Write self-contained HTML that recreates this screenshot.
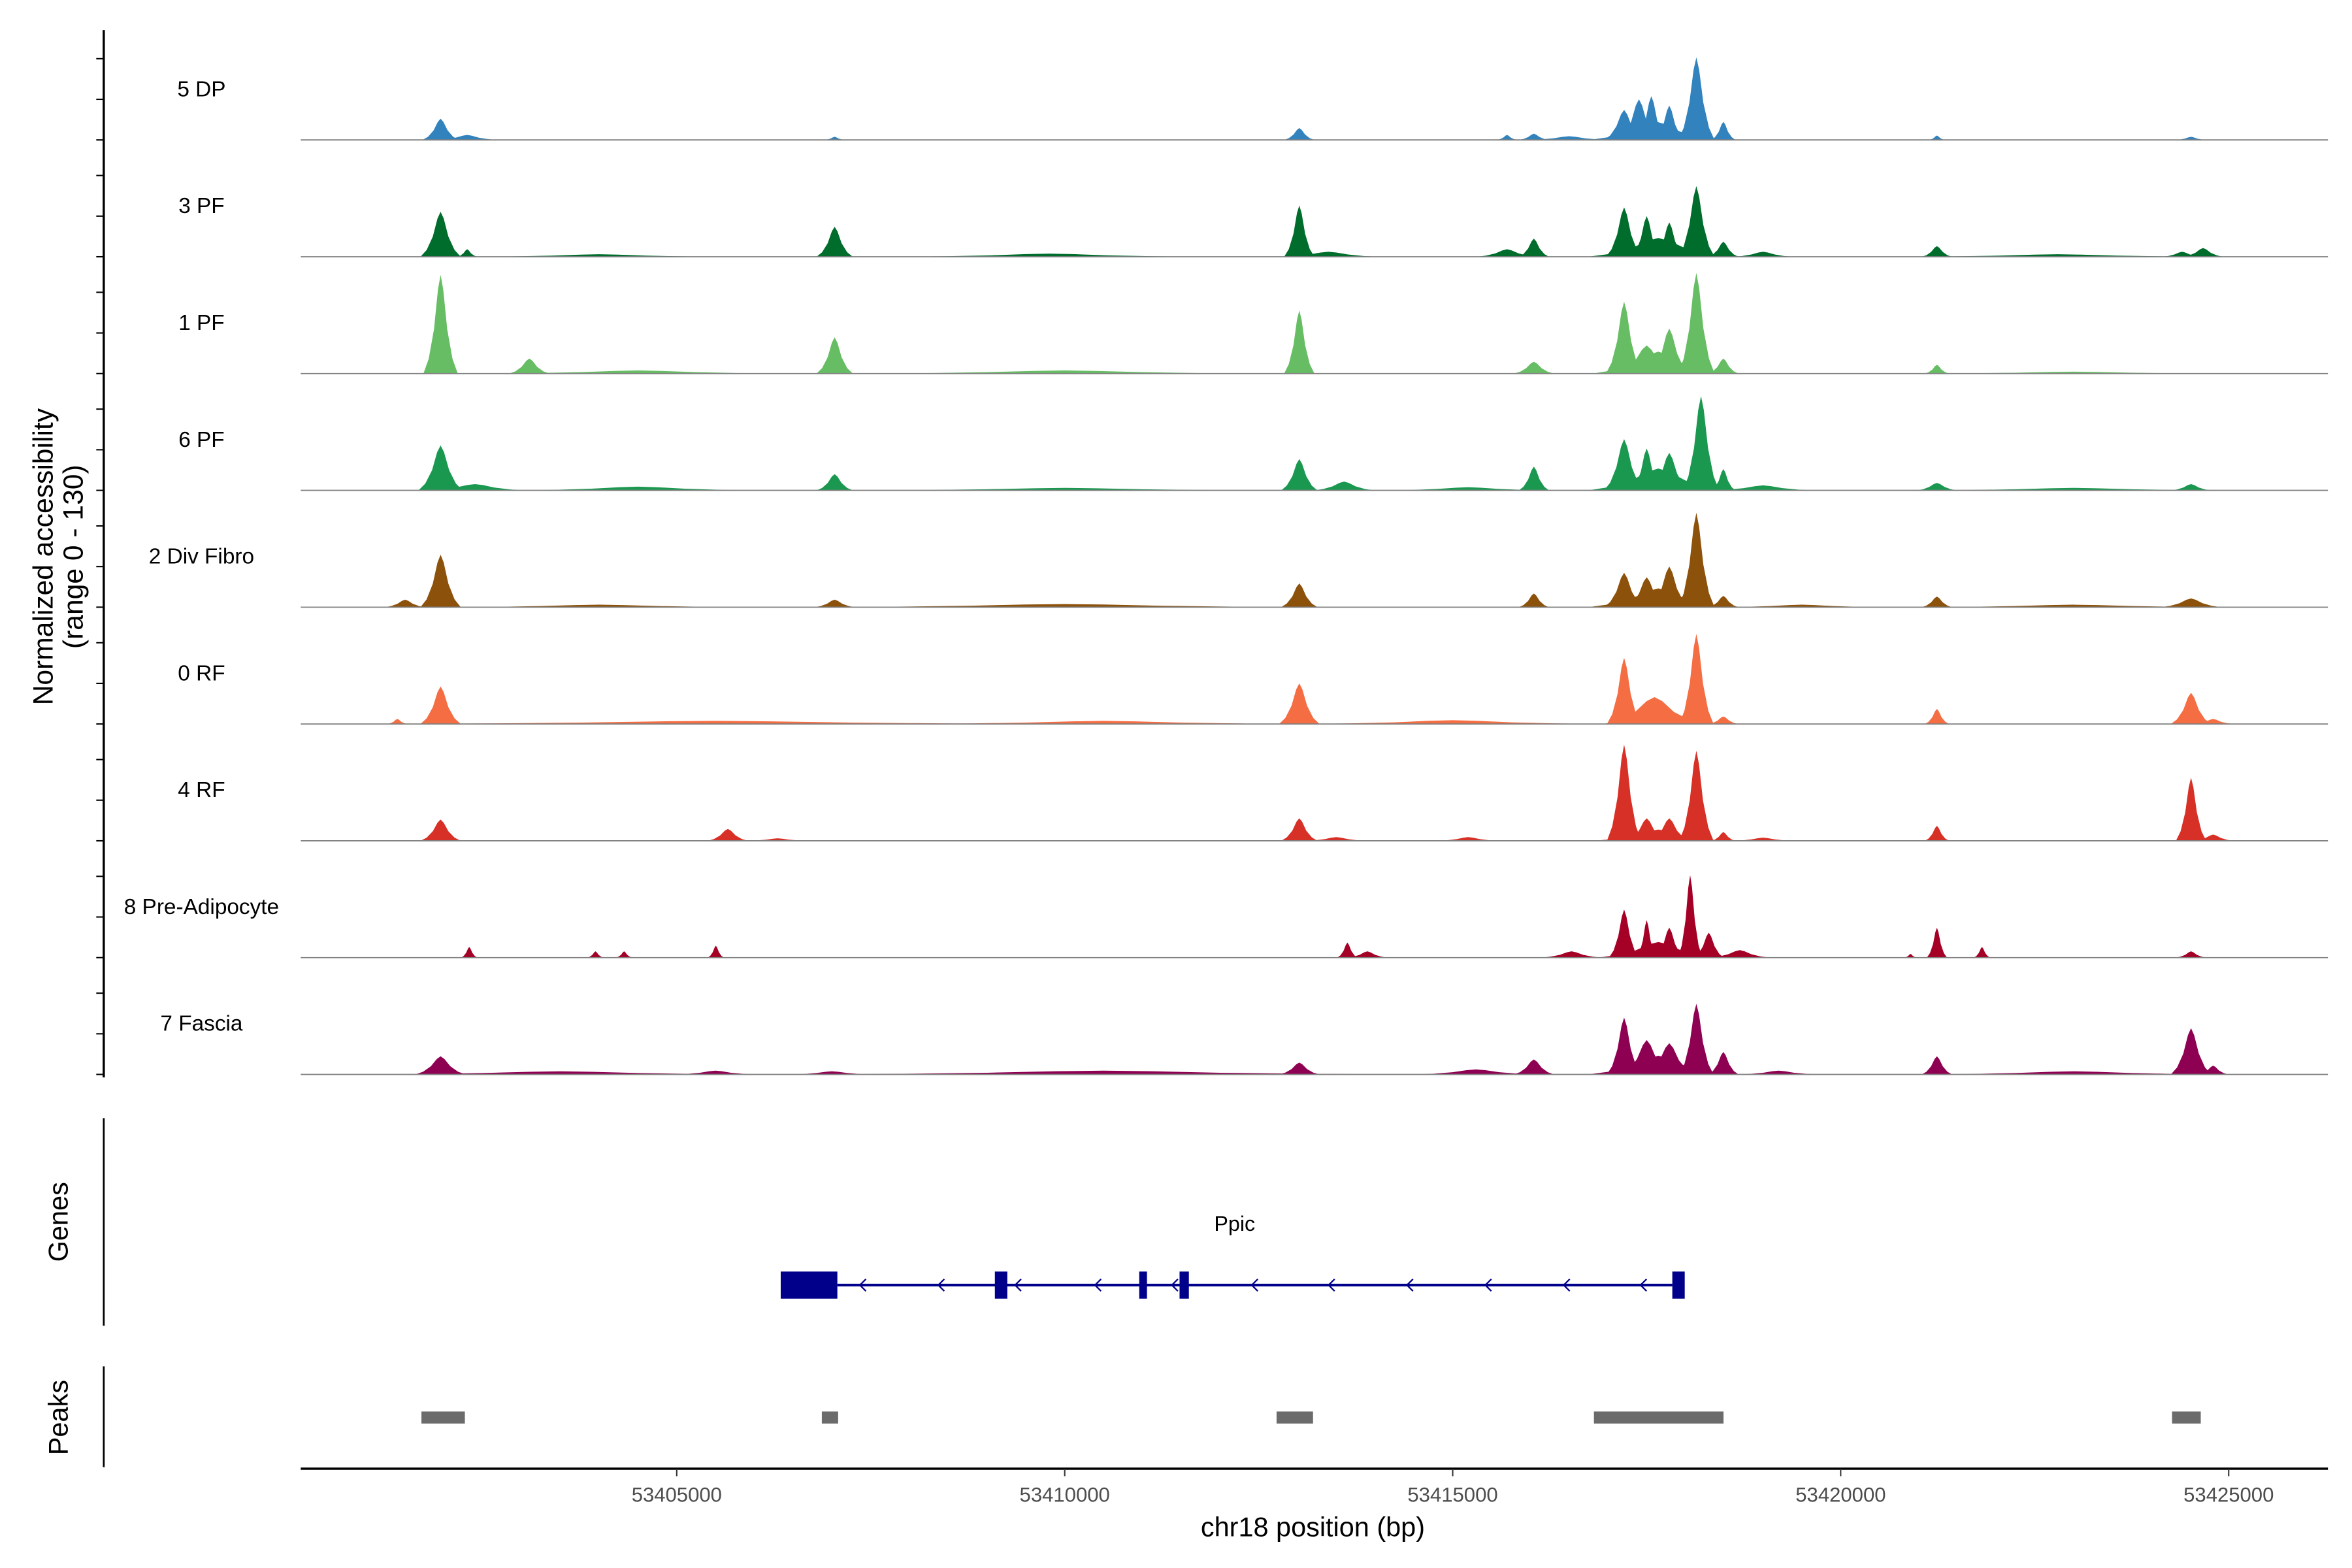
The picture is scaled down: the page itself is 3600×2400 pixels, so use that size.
<!DOCTYPE html>
<html><head><meta charset="utf-8"><style>
html,body{margin:0;padding:0;background:#fff;}
svg{display:block;font-family:"Liberation Sans",sans-serif;}
</style></head><body>
<svg id="chart" width="3600" height="2400" viewBox="0 0 1564 1042" preserveAspectRatio="none" xmlns="http://www.w3.org/2000/svg">
<rect x="0" y="0" width="1564" height="1042" fill="#fff"/>
<g id="tracks"></g>
<g id="yaxis"></g>
<text transform="translate(35,370) rotate(-90)" text-anchor="middle" font-size="18.5" fill="#000">Normalized accessibility</text>
<text transform="translate(55,370) rotate(-90)" text-anchor="middle" font-size="18.5" fill="#000">(range 0 - 130)</text>
<line x1="69" y1="743" x2="69" y2="881" stroke="#000" stroke-width="1.2"/>
<text transform="translate(45,812) rotate(-90)" text-anchor="middle" font-size="18">Genes</text>
<line x1="69" y1="908" x2="69" y2="975" stroke="#000" stroke-width="1.2"/>
<text transform="translate(45,942) rotate(-90)" text-anchor="middle" font-size="18">Peaks</text>
<g id="genes"></g>
<g id="peaks"></g>
<g id="xaxis"></g>
<text x="873" y="1021" text-anchor="middle" font-size="18">chr18 position (bp)</text>
</svg>
<script>
const trackNames = ["5 DP","3 PF","1 PF","6 PF","2 Div Fibro","0 RF","4 RF","8 Pre-Adipocyte","7 Fascia"];
const trackColors = ["#3182bd","#006d2c","#66bd63","#1a9850","#8c510a","#f46d43","#d73027","#a50026","#8e0152"];
const dp5 = [[53401957,34,180],[53402300,8,300],[53407035,5,100],[53413023,19,150],[53415700,8,100],[53416046,10,150],[53416500,6,400],[53417209,48,200],[53417400,65,200],[53417560,70,150],[53417791,55,150],[53417600,30,650],[53418140,132,180],[53418488,29,120],[53421240,7,80],[53424515,5,150]];
const pf3 = [[53401957,72,200],[53402300,12,100],[53407035,48,180],[53413023,82,150],[53413400,8,500],[53416046,29,150],[53415700,12,300],[53417209,79,180],[53417500,65,150],[53417791,55,150],[53417650,30,700],[53418140,113,180],[53418488,24,150],[53419000,8,300],[53421240,17,150],[53424670,14,200],[53424400,8,200],[53404000,4,1200],[53409800,5,1500],[53422800,4,1500]];
const pf1 = [[53401957,158,170],[53403101,24,200],[53407035,58,180],[53413023,101,150],[53416046,19,200],[53417209,115,180],[53417500,45,300],[53417791,72,200],[53417650,35,650],[53418140,161,180],[53418488,24,150],[53421240,14,120],[53404500,5,1500],[53410000,5,2000],[53423000,3,1500]];
const pf6 = [[53401957,72,220],[53402400,10,500],[53407035,26,180],[53413023,50,180],[53413600,14,300],[53416046,38,150],[53415200,5,800],[53417209,82,200],[53417500,67,150],[53417791,60,200],[53417650,35,700],[53418200,151,180],[53418488,34,120],[53419000,8,500],[53421240,12,200],[53424515,10,200],[53404500,6,1200],[53410000,4,2000],[53423000,4,1500]];
const div2 = [[53401957,84,200],[53401500,12,200],[53407035,12,200],[53413023,38,180],[53416046,22,150],[53417209,55,200],[53417500,48,200],[53417791,65,200],[53417650,30,700],[53418140,151,180],[53418488,18,150],[53421240,17,150],[53424515,14,300],[53404000,4,1500],[53410000,5,2500],[53419500,4,800],[53423000,4,1500]];
const rf0 = [[53401957,60,200],[53401400,8,100],[53413023,65,200],[53417209,106,170],[53417600,43,500],[53418140,144,170],[53418488,12,150],[53421240,24,120],[53424515,50,200],[53424800,8,200],[53405500,5,3500],[53410500,5,2000],[53415000,6,1500]];
const rf4 = [[53401957,34,200],[53405659,19,200],[53406300,4,300],[53413023,36,180],[53413500,6,300],[53415200,6,300],[53417209,154,170],[53417500,36,200],[53417791,36,200],[53417650,18,650],[53418140,144,170],[53418488,14,120],[53421240,24,120],[53424515,101,150],[53424800,10,200],[53419000,5,300]];
const pre8 = [[53402326,17,80],[53403953,10,80],[53404322,10,80],[53405504,19,80],[53413643,24,100],[53413900,10,200],[53416531,10,300],[53417209,77,150],[53417500,60,100],[53417791,48,150],[53417650,25,600],[53418060,132,120],[53418300,40,150],[53418700,12,300],[53421240,48,100],[53420900,6,60],[53421821,17,80],[53424515,10,150]];
const fascia7 = [[53401957,29,250],[53405500,6,400],[53407000,5,400],[53413023,19,200],[53416046,24,200],[53415300,8,600],[53417209,91,170],[53417500,55,250],[53417791,50,250],[53417650,30,700],[53418140,113,170],[53418488,36,150],[53419200,6,400],[53421240,29,150],[53424515,74,200],[53424800,14,150],[53403500,5,2000],[53410500,6,3000],[53423000,5,1500]];
const trackData = [dp5,pf3,pf1,pf6,div2,rf0,rf4,pre8,fascia7];
const xTicks = [53405000,53410000,53415000,53420000,53425000];
const exons = [[53406340,53407070],[53409100,53409260],[53410960,53411060],[53411480,53411600],[53417830,53417990]];
const geneSpan = [53407070,53417830];
const arrowPos = [53407380,53408390,53409380,53410410,53411400,53412430,53413420,53414430,53415440,53416450,53417440];
const peakRegions = [[53401710,53402270],[53406870,53407080],[53412730,53413200],[53416820,53418490],[53424270,53424640]];

const NS="http://www.w3.org/2000/svg";
const X0=200, BP0=53400155, PXBP=0.0516;
const xs = bp => X0 + (bp-BP0)*PXBP;
const baseY = i => 93 + i*77.625;
const ys = (i,v) => baseY(i) - v*54/130;
function mk(tag, attrs, parent){const e=document.createElementNS(NS,tag);for(const k in attrs)e.setAttribute(k,attrs[k]);parent.appendChild(e);return e;}

const tracks=document.getElementById('tracks');
const shape=[[-1.3,0],[-0.9,0.15],[-0.5,0.45],[-0.2,0.85],[0,1],[0.2,0.85],[0.5,0.45],[0.9,0.15],[1.3,0]];
trackData.forEach((peaks,i)=>{
  const g=mk('g',{},tracks);
  
  
  peaks.forEach(p=>{
    const pts=shape.map(s=>xs(p[0]+s[0]*p[2]).toFixed(2)+','+ys(i,p[1]*s[1]).toFixed(2)).join(' ');
    const poly=mk('polygon',{points:pts,fill:trackColors[i]},g);
    
    
  });
  const bl=mk('line',{x1:200,x2:1548,y1:baseY(i),y2:baseY(i),stroke:'#808080','stroke-width':0.8},g);
  
  
  const t=mk('text',{x:134,y:baseY(i)-29,'text-anchor':'middle','font-size':'14.5',fill:'#000'},g);
  t.textContent=trackNames[i];
  
  
});
const ya=document.getElementById('yaxis');
const yl=mk('line',{x1:69,x2:69,y1:20,y2:716,stroke:'#000','stroke-width':1.5},ya);


trackNames.forEach((n,i)=>{
  [0,65,130].forEach(v=>{
    const tk=mk('line',{x1:64,x2:69,y1:ys(i,v),y2:ys(i,v),stroke:'#000','stroke-width':0.9},ya);
    
    
  });
});
const gg=document.getElementById('genes');
const gl=mk('line',{x1:xs(geneSpan[0]),x2:xs(geneSpan[1]),y1:854,y2:854,stroke:'#00008b','stroke-width':1.8},gg);


exons.forEach(e=>{
  const r=mk('rect',{x:xs(e[0]),y:845,width:xs(e[1])-xs(e[0]),height:18,fill:'#00008b'},gg);
  
  
});
arrowPos.forEach(a=>{
  const x=xs(a);
  const p=mk('polyline',{points:(x+3)+',850 '+(x-1)+',854 '+(x+3)+',858',fill:'none',stroke:'#00008b','stroke-width':1},gg);
  
  
});
const gt=mk('text',{x:821,y:818,'text-anchor':'middle','font-size':'14'},gg);
gt.textContent='Ppic';


const pg=document.getElementById('peaks');
peakRegions.forEach(p=>{
  const r=mk('rect',{x:xs(p[0]),y:938,width:xs(p[1])-xs(p[0]),height:8,fill:'#6b6b6b'},pg);
  
  
});
const xa=document.getElementById('xaxis');
const xl=mk('line',{x1:200,x2:1548,y1:976,y2:976,stroke:'#000','stroke-width':1.5},xa);


xTicks.forEach(t=>{
  const x=xs(t);
  const tk=mk('line',{x1:x,x2:x,y1:976,y2:981,stroke:'#333','stroke-width':0.9},xa);
  
  
  const lb=mk('text',{x:x,y:998,'text-anchor':'middle','font-size':'13.5',fill:'#4d4d4d'},xa);
  lb.textContent=String(t);
  
  
});
</script>
</body></html>
